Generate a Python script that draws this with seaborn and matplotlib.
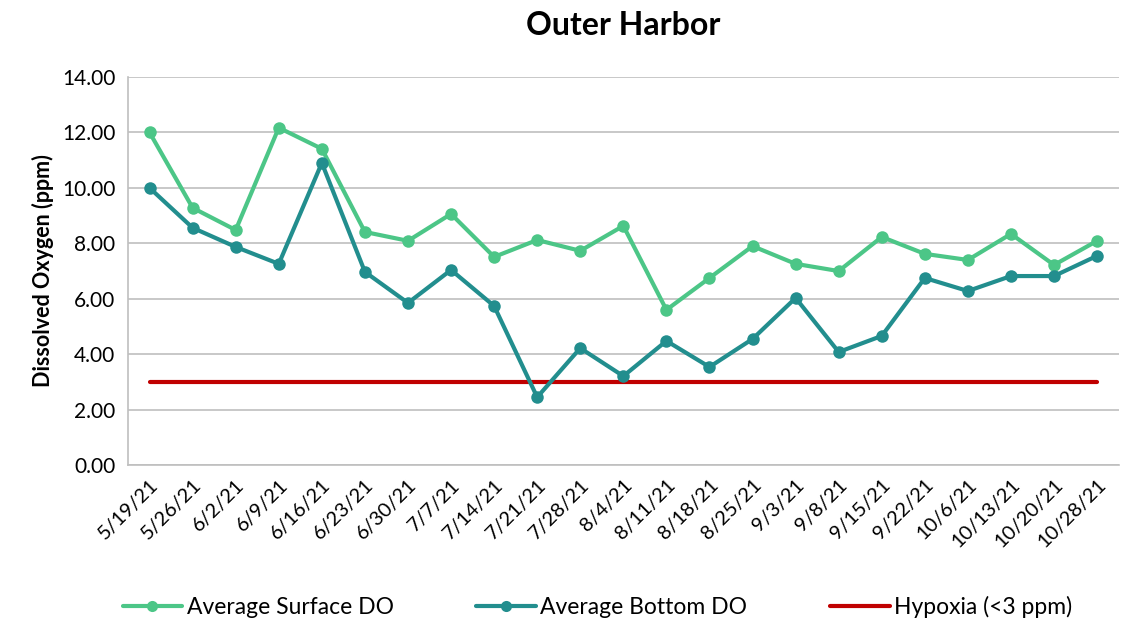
import numpy as np
import pandas as pd
import matplotlib
matplotlib.use('Agg')
import matplotlib.pyplot as plt
from matplotlib.lines import Line2D
from matplotlib.ticker import FormatStrFormatter, MultipleLocator
import seaborn as sns

# data
dates = ['5/19/21', '5/26/21', '6/2/21', '6/9/21', '6/16/21', '6/23/21', '6/30/21',
         '7/7/21', '7/14/21', '7/21/21', '7/28/21', '8/4/21', '8/11/21', '8/18/21',
         '8/25/21', '9/3/21', '9/8/21', '9/15/21', '9/22/21', '10/6/21', '10/13/21',
         '10/20/21', '10/28/21']
surface_do = [12.0, 9.28, 8.48, 12.17, 11.41, 8.41, 8.09, 9.06, 7.51, 8.12, 7.73, 8.63,
              5.6, 6.75, 7.9, 7.26, 7.0, 8.23, 7.62, 7.4, 8.34, 7.22, 8.09]
bottom_do = [10.0, 8.56, 7.87, 7.26, 10.9, 6.97, 5.85, 7.04, 5.74, 2.45, 4.22, 3.21,
             4.48, 3.54, 4.55, 6.03, 4.08, 4.66, 6.75, 6.28, 6.82, 6.82, 7.55]
hypoxia = [3.0] * len(dates)

green = '#4CC687'
teal = '#228E8E'
red = '#C00000'

sns.set_style('white')
plt.rcParams['font.family'] = ['Lato', 'DejaVu Sans']
plt.rcParams['text.color'] = 'black'
plt.rcParams['axes.labelcolor'] = 'black'
plt.rcParams['xtick.labelcolor'] = 'black'
plt.rcParams['ytick.labelcolor'] = 'black'

df = pd.DataFrame({'date': dates, 'surface': surface_do, 'bottom': bottom_do, 'hyp': hypoxia})

fig, ax = plt.subplots(figsize=(11.38, 6.26), dpi=100)
fig.subplots_adjust(left=0.1125, right=0.983, top=0.877, bottom=0.257)

sns.lineplot(data=df, x='date', y='hyp', color=red, linewidth=3, sort=False, ax=ax)
sns.lineplot(data=df, x='date', y='surface', color=green, linewidth=3, marker='o',
             markersize=9, markeredgewidth=0, sort=False, ax=ax)
sns.lineplot(data=df, x='date', y='bottom', color=teal, linewidth=3, marker='o',
             markersize=9, markeredgewidth=0, sort=False, ax=ax)

ax.set_ylim(0, 14)
ax.set_xlim(-0.5, len(dates) - 0.5)
ax.yaxis.set_major_locator(MultipleLocator(2))
ax.yaxis.set_major_formatter(FormatStrFormatter('%.2f'))
ax.grid(axis='y', color='#BFBFBF', linewidth=1.2)
ax.set_axisbelow(True)
for s in ['top', 'right']:
    ax.spines[s].set_visible(False)
for s in ['left', 'bottom']:
    ax.spines[s].set_color('#BFBFBF')
    ax.spines[s].set_linewidth(1.2)

ax.set_xticks(range(len(dates)))
ax.set_xticklabels(dates, rotation=45, ha='right', rotation_mode='anchor', fontsize=14.5)
ax.tick_params(axis='x', which='major', length=0, pad=8)
ax.set_xticks(np.arange(-0.5, len(dates), 1), minor=True)
ax.tick_params(axis='x', which='minor', length=6, color='#BFBFBF', width=1.2)
ax.tick_params(axis='y', labelsize=15, length=6, color='#BFBFBF', width=1.2, pad=3)

ax.set_xlabel('')
ax.set_ylabel('Dissolved Oxygen (ppm)', fontsize=15.5, fontweight='bold', labelpad=6)
ax.set_title('Outer Harbor', fontsize=23, fontweight='bold', pad=30)

handles = [Line2D([], [], color=green, lw=3, marker='o', markersize=8, markeredgewidth=0),
           Line2D([], [], color=teal, lw=3, marker='o', markersize=8, markeredgewidth=0),
           Line2D([], [], color=red, lw=3)]
labels = ['Average Surface DO', 'Average Bottom DO', 'Hypoxia (<3 ppm)']
fig.legend(handles, labels, loc='lower center', bbox_to_anchor=(0.525, -0.02), ncol=3,
           frameon=False, fontsize=16.5, handlelength=2.6, handletextpad=0.2, columnspacing=3.6)

fig.savefig('out.png', dpi=100)
